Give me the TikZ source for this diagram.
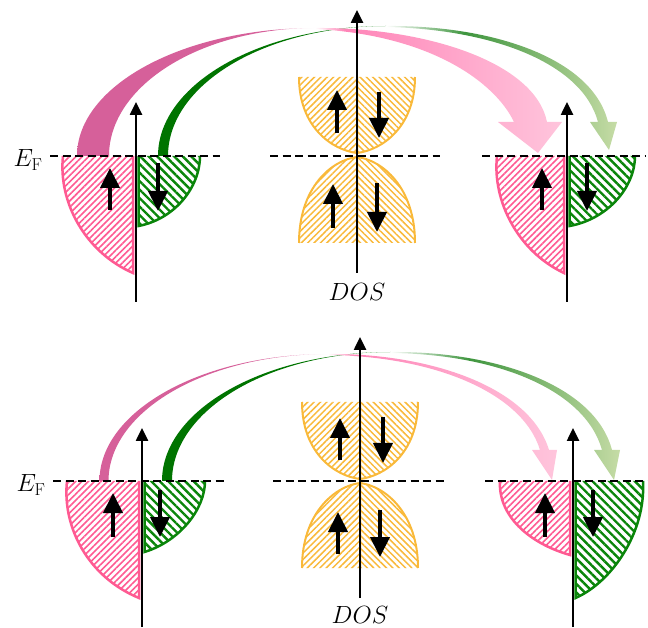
\documentclass[tikz,border=0pt]{standalone}
\usepackage{tikz}
\usetikzlibrary{arrows.meta,patterns.meta,shadings}
\definecolor{upc}{HTML}{FF5A92}
\definecolor{downc}{HTML}{0A850A}
\definecolor{bandc}{HTML}{F9B93A}
\definecolor{pinkarc}{HTML}{D6609A}
\definecolor{pinkhead}{HTML}{FF85B8}
\definecolor{pinklight}{HTML}{FFC5DC}
\definecolor{greenarc}{HTML}{007400}
\definecolor{greenmid}{HTML}{3E953E}
\definecolor{greenlight}{HTML}{C6DCA6}
\pgfdeclarehorizontalshading{pinkfade}{100bp}{color(0bp)=(pinkarc); color(25bp)=(pinkarc);
  color(66bp)=(pinkarc); color(75bp)=(white); color(100bp)=(white)}
\pgfdeclarehorizontalshading{pinkgrow}{100bp}{color(0bp)=(white); color(25bp)=(white);
  color(31bp)=(pinkhead); color(75bp)=(pinklight); color(100bp)=(pinklight)}
\pgfdeclarehorizontalshading{greengrow}{100bp}{color(0bp)=(white); color(25bp)=(white);
  color(42bp)=(greenmid); color(75bp)=(greenlight); color(100bp)=(greenlight)}
\tikzset{
  dosaxis/.style={line width=2.5pt, -{Triangle[width=12pt,length=13pt]}},
  fermiline/.style={line width=2.5pt, dash pattern=on 8pt off 4.5pt},
  spinarrow/.style={line width=4pt, -{Triangle[width=19pt,length=20pt]}},
  upstate/.style={draw=upc, line width=2.5pt,
    pattern={Lines[angle=45,distance=4.5pt,line width=1.6pt]}, pattern color=upc},
  downstate/.style={draw=downc, line width=2.5pt,
    pattern={Lines[angle=135,distance=6pt,line width=2.4pt]}, pattern color=downc},
  bandup/.style={draw=bandc, line width=2pt,
    pattern={Lines[angle=45,distance=4.5pt,line width=1.5pt]}, pattern color=bandc},
  banddown/.style={draw=bandc, line width=2pt,
    pattern={Lines[angle=135,distance=4.5pt,line width=1.5pt]}, pattern color=bandc},
  lbl/.style={font=\fontsize{24}{28}\selectfont, inner sep=0pt},
}

\begin{document}
\begin{tikzpicture}[x=1pt,y=1pt]
  \useasboundingbox (0,0) rectangle (648,627);

  % ---------- upper row ----------
  % transfer arcs
  \shade[shading=pinkfade] (77,471) arc[start angle=180,end angle=90,x radius=238,y radius=128]
    arc[start angle=90,end angle=180,x radius=206,y radius=128] -- cycle;
  \fill[greenarc] (158,471) arc[start angle=180,end angle=90,x radius=228,y radius=130]
    arc[start angle=90,end angle=180,x radius=218,y radius=130] -- cycle;
  \shade[shading=pinkgrow] (315,599) .. controls (425,600) and (535,565) .. (547,505)
    -- (562,505) -- (538,474) -- (498,505) -- (514,505)
    .. controls (495,545) and (430,592) .. (315,598) -- cycle;
  \shade[shading=greengrow] (386,601) .. controls (490,602) and (592,570) .. (608,505)
    -- (617,505) -- (609,477) -- (590,505) -- (598,505)
    .. controls (582,565) and (490,598) .. (386,600) -- cycle;

  % left metal (open paths: the top edge is filled, not stroked)
  \draw[upstate] (63,471) .. controls (58,425) and (85,375) .. (133,354) -- (133,471);
  \draw[downstate] (200,471) .. controls (200,440) and (175,408) .. (138.5,401) -- (138.5,471);
  % spacer bands
  \draw[bandup] (357,550) -- (357,474) .. controls (332,477) and (299,500) .. (299,550);
  \draw[banddown] (357,550) -- (357,474) .. controls (382,477) and (415,500) .. (415,550);
  \draw[bandup] (357,384) -- (357,470) .. controls (332,467) and (299,440) .. (299,384);
  \draw[banddown] (357,384) -- (357,470) .. controls (382,467) and (415,440) .. (415,384);
  % right metal
  \draw[upstate] (497,471) .. controls (492,425) and (519,375) .. (564,354) -- (564,471);
  \draw[downstate] (635,471) .. controls (635,440) and (608,408) .. (569.5,401) -- (569.5,471);

  \draw[fermiline] (50,471) -- (220,471);
  \draw[fermiline] (270,471) -- (440,471);
  \draw[fermiline] (482,471) -- (645,471);

  \draw[dosaxis] (136,325) -- (136,525);
  \draw[dosaxis] (357,354) -- (357,617);
  \draw[dosaxis] (567,325) -- (567,525);

  \draw[spinarrow] (110,417) -- (110,459);
  \draw[spinarrow] (158,464) -- (158,416);
  \draw[spinarrow] (337,494) -- (337,537);
  \draw[spinarrow] (379,535) -- (379,489);
  \draw[spinarrow] (333,399) -- (333,443);
  \draw[spinarrow] (377,444) -- (377,395);
  \draw[spinarrow] (542,417) -- (542,459);
  \draw[spinarrow] (587,464) -- (587,416);

  \node[lbl] (ef1) at (28,467) {$E_{\mathrm{F}}$};
  \node[lbl, anchor=base] (dos1) at (357,326) {$DOS$};

  % ---------- lower row ----------
  \shade[shading=pinkfade] (99.5,146) arc[start angle=180,end angle=90,x radius=228.5,y radius=127]
    arc[start angle=90,end angle=180,x radius=219.5,y radius=127] -- cycle;
  \fill[greenarc] (162,146) arc[start angle=180,end angle=90,x radius=228.5,y radius=129]
    arc[start angle=90,end angle=180,x radius=218.5,y radius=129] -- cycle;
  \shade[shading=pinkgrow] (328,273) .. controls (430,274) and (530,240) .. (549,177)
    -- (557,177) -- (552,147) -- (532,177) -- (540,177)
    .. controls (522,236) and (430,271) .. (328,272) -- cycle;
  \shade[shading=greengrow] (390.5,275) .. controls (495,276) and (595,242) .. (612,177)
    -- (620,177) -- (614,147) -- (594,177) -- (602,177)
    .. controls (585,238) and (495,273) .. (390.5,274) -- cycle;

  % left metal
  \draw[upstate] (67,146) .. controls (62,100) and (88,50) .. (139,29) -- (139,146);
  \draw[downstate] (205,146) .. controls (205,118) and (180,86) .. (144.5,75) -- (144.5,146);
  % spacer bands
  \draw[bandup] (360,225) -- (360,148) .. controls (335,151) and (302,174) .. (302,225);
  \draw[banddown] (360,225) -- (360,148) .. controls (385,151) and (418,174) .. (418,225);
  \draw[bandup] (360,59) -- (360,144) .. controls (335,141) and (302,114) .. (302,59);
  \draw[banddown] (360,59) -- (360,144) .. controls (385,141) and (418,114) .. (418,59);
  % right metal
  \draw[upstate] (500,146) .. controls (498,112) and (528,84) .. (570,72) -- (570,146);
  \draw[downstate] (643,146) .. controls (646,95) and (612,45) .. (575.5,29) -- (575.5,146);

  \draw[fermiline] (53,146) -- (227,146);
  \draw[fermiline] (273,146) -- (445,146);
  \draw[fermiline] (485,146) -- (648,146);

  \draw[dosaxis] (142,0) -- (142,199);
  \draw[dosaxis] (360,29) -- (360,290);
  \draw[dosaxis] (573,0) -- (573,199);

  \draw[spinarrow] (113,90) -- (113,134);
  \draw[spinarrow] (160,137) -- (160,90);
  \draw[spinarrow] (340,167) -- (340,209);
  \draw[spinarrow] (383,210) -- (383,164);
  \draw[spinarrow] (338,73) -- (338,115);
  \draw[spinarrow] (380,117) -- (380,70);
  \draw[spinarrow] (545,90) -- (545,134);
  \draw[spinarrow] (593,137) -- (593,90);

  \node[lbl] (ef2) at (31,142) {$E_{\mathrm{F}}$};
  \node[lbl, anchor=base] (dos2) at (360,4) {$DOS$};
\end{tikzpicture}
\end{document}
